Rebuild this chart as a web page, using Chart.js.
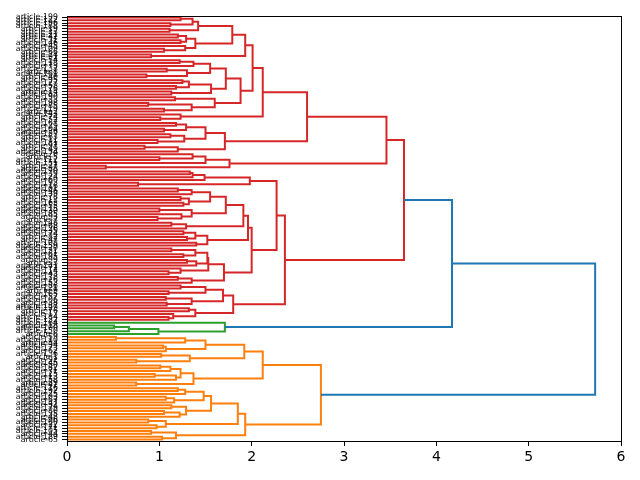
<!DOCTYPE html>
<html>
<head>
<meta charset="utf-8">
<script src="https://cdn.jsdelivr.net/npm/chart.js@4/dist/chart.umd.min.js"></script>
<style>
  html, body { margin: 0; padding: 0; background: #fff; }
  #wrap { width: 640px; height: 480px; }
</style>
</head>
<body>
<div id="wrap"><canvas id="dendro"></canvas></div>
<script>
// merge height between neighbouring leaves, read from the top leaf down
const redGaps = [
  1.23, 1.36, 1.12, 1.42, 1.11, 1.79, 1.20, 1.29, 1.23, 1.39, 1.28, 1.05, 1.93, 0.91,
  2.01,
  1.22, 1.37, 1.55, 1.08, 1.30, 0.86, 1.72, 1.25, 1.32, 1.18, 1.56, 1.13,
  1.88,
  1.17, 1.60, 0.88, 1.35, 1.05,
  2.12,
  1.23, 1.01,
  2.60,
  1.18, 1.29, 1.05, 1.50, 1.12, 1.27, 0.98, 1.71, 0.84, 1.20,
  3.46,
  1.36, 1.00, 1.50, 1.76, 0.42,
  3.65,
  1.33, 1.36, 1.49, 1.98, 0.77,
  2.27,
  1.20, 1.35, 1.55, 1.23, 1.32, 1.26, 1.72, 1.00, 1.35, 1.24, 0.98, 1.91, 1.13, 1.29,
  1.96, 1.26, 1.39, 1.30, 1.52, 1.40,
  2.00,
  1.13, 1.39, 1.26, 1.52, 1.30, 1.40, 1.53, 1.23, 1.10, 1.70, 1.20, 1.35,
  2.36,
  1.23, 1.50, 1.10, 1.69, 1.07, 1.35, 1.08, 1.80, 1.32, 1.39, 1.15, 1.10
];
const greenGaps = [1.71, 0.51, 0.67, 0.99];
const orangeGaps = [
  0.53, 1.28, 1.50, 1.04, 1.07, 1.92, 1.02, 1.33, 0.75,
  2.12,
  1.01, 1.12, 1.23, 0.95, 1.18, 1.37, 0.75,
  2.75,
  1.20, 1.28, 1.48, 1.07, 1.16, 1.56, 1.13, 1.29, 1.05, 1.22,
  1.85, 0.88, 1.07, 0.97, 1.93, 0.91, 1.18, 1.03
];
// heights where red meets green, then the root
const clusterJoins = [4.17, 5.72];

const leafLabels = [
  // red
  'article-199','article-122','article-196','article-188','article-19','article-23',
  'article-21','article-42','article-31','article-146','article-45','article-109',
  'article-66','article-24','article-91','article-54','article-118','article-73',
  'article-137','article-8','article-161','article-40','article-95','article-127',
  'article-58','article-176','article-14','article-83','article-190','article-33',
  'article-198','article-85','article-119','article-2','article-143','article-74',
  'article-52','article-167','article-29','article-104','article-36','article-157',
  'article-63','article-11','article-181','article-97','article-49','article-134',
  'article-70','article-5','article-112','article-151','article-27','article-88',
  'article-170','article-39','article-124','article-60','article-193','article-16',
  'article-101','article-46','article-139','article-78','article-12','article-163',
  'article-55','article-115','article-30','article-185','article-93','article-7',
  'article-148','article-68','article-126','article-35','article-174','article-82',
  'article-47','article-108','article-159','article-20','article-131','article-61',
  'article-195','article-99','article-3','article-141','article-72','article-114',
  'article-43','article-178','article-26','article-153','article-86','article-121',
  'article-9','article-165','article-57','article-106','article-38','article-187',
  'article-129','article-76','article-17','article-184','article-132',
  // green
  'article-164','article-18','article-100','article-150','article-6',
  // orange
  'article-59','article-110','article-84','article-34','article-173','article-62',
  'article-136','article-1','article-92','article-145','article-50','article-182',
  'article-71','article-125','article-13','article-158','article-89','article-41',
  'article-116','article-192','article-25','article-103','article-67','article-147',
  'article-32','article-179','article-80','article-135','article-48','article-96',
  'article-160','article-22','article-171','article-105','article-44','article-189',
  'article-65'
];

const C0 = '#1f77b4', C1 = '#ff7f0e', C2 = '#2ca02c', C3 = '#d62728';
const clusterColors = [C3, C2, C1];

const gaps = redGaps.concat([clusterJoins[0]], greenGaps, [clusterJoins[1]], orangeGaps);
const N = gaps.length + 1;
const clusterOf = [];
[redGaps, greenGaps, orangeGaps].forEach((g, i) => {
  for (let k = 0; k <= g.length; k++) clusterOf.push(i);
});
const threshold = 0.7 * Math.max(...gaps);

// leaf t (counted from the top) sits at y = 10N - 5 - 10t, as scipy does
const segs = { [C0]: [], [C1]: [], [C2]: [], [C3]: [] };
function build(lo, hi) {
  if (lo === hi) return { x: 0, y: 10 * N - 5 - 10 * lo };
  let k = lo;
  for (let i = lo; i < hi; i++) if (gaps[i] > gaps[k]) k = i;
  const a = build(lo, k), b = build(k + 1, hi);
  const h = gaps[k];
  const col = h > threshold ? C0 : clusterColors[clusterOf[lo]];
  segs[col].push({ x: a.x, y: a.y }, { x: h, y: a.y }, { x: h, y: b.y }, { x: b.x, y: b.y }, { x: null, y: null });
  return { x: h, y: (a.y + b.y) / 2 };
}
build(0, N - 1);

const leafTicks = leafLabels.map((_, t) => 10 * N - 5 - 10 * t);

const frame = {
  id: 'frame',
  afterDraw(chart) {
    const { ctx, chartArea: a } = chart;
    ctx.save();
    ctx.strokeStyle = '#000';
    ctx.lineWidth = 1;
    ctx.strokeRect(Math.round(a.left) + 0.5, Math.round(a.top) + 0.5, Math.round(a.width), Math.round(a.height));
    ctx.restore();
  }
};

new Chart(document.getElementById('dendro').getContext('2d'), {
  type: 'scatter',
  data: {
    datasets: Object.keys(segs).map(c => ({
      data: segs[c],
      showLine: true,
      spanGaps: false,
      borderColor: c,
      borderWidth: 2,
      pointRadius: 0,
      fill: false
    }))
  },
  options: {
    responsive: true,
    maintainAspectRatio: false,
    animation: false,
    devicePixelRatio: 1,
    layout: { padding: { top: 16, right: 19, left: 0, bottom: 0 } },
    plugins: { legend: { display: false }, tooltip: { enabled: false } },
    scales: {
      x: {
        type: 'linear',
        min: 0,
        max: 6,
        grid: { display: true, drawOnChartArea: false, drawTicks: true, tickLength: 5, color: '#000' },
        border: { display: false },
        ticks: { stepSize: 1, color: '#000', padding: 3, font: { family: 'DejaVu Sans', size: 14 } },
        afterFit(s) { s.height = 39; }
      },
      y: {
        type: 'linear',
        min: 0,
        max: 10 * N,
        afterBuildTicks(s) { s.ticks = leafTicks.map(v => ({ value: v })); },
        grid: { display: true, drawOnChartArea: false, drawTicks: true, tickLength: 5, color: '#000' },
        border: { display: false },
        ticks: {
          autoSkip: false,
          padding: 4,
          color: '#000',
          font: { family: 'DejaVu Sans', size: 7.8 },
          callback(v, i) { return leafLabels[i]; }
        },
        afterFit(s) { s.width = 67; }
      }
    }
  },
  plugins: [frame]
});
</script>
</body>
</html>
